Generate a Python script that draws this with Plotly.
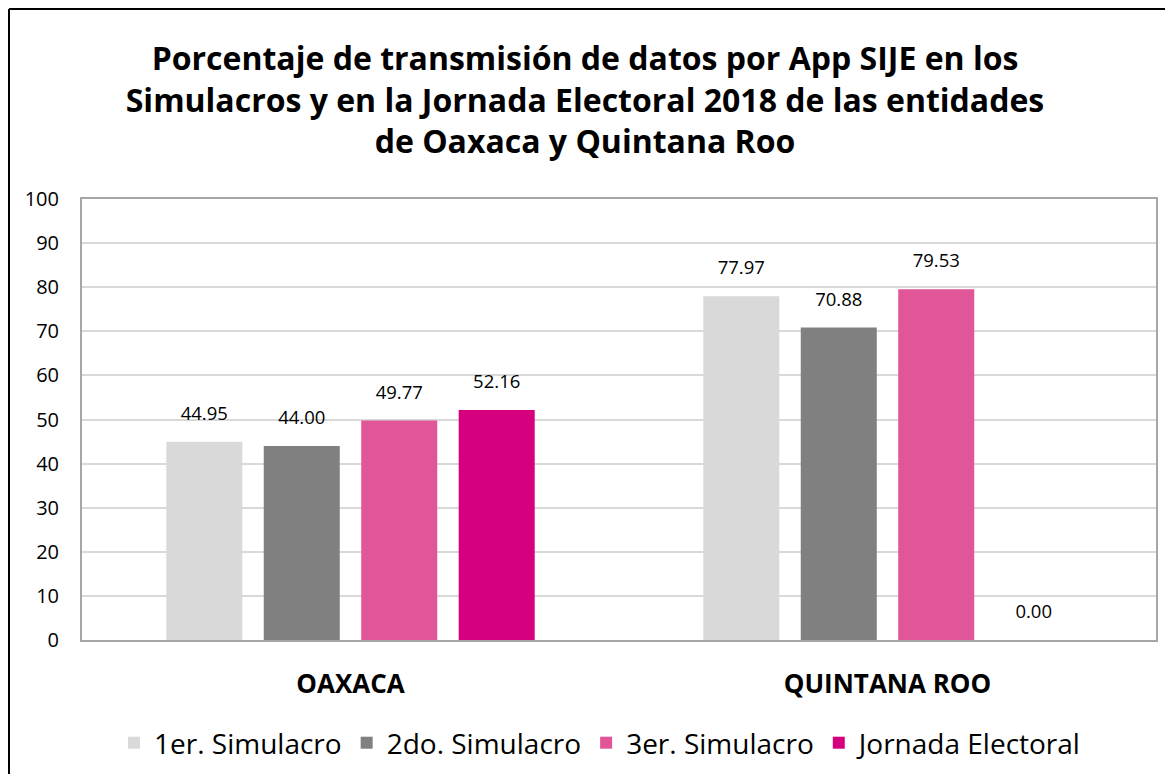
import plotly.graph_objects as go

# ================= DATA =================
CATEGORIES = ["OAXACA", "QUINTANA ROO"]
SERIES = ["1er. Simulacro", "2do. Simulacro", "3er. Simulacro", "Jornada Electoral"]
VALUES_1ER = [44.95, 77.97]
VALUES_2DO = [44.00, 70.88]
VALUES_3ER = [49.77, 79.53]
VALUES_JORNADA = [52.16, 0.00]
COLORS = ["#d9d9d9", "#808080", "#e05699", "#d6007e"]
TITLE = ("Porcentaje de transmisión de datos por App SIJE en los<br>"
         "Simulacros y en la Jornada Electoral 2018 de las entidades<br>"
         "de Oaxaca y Quintana Roo")
# ========================================

FONT = "Open Sans"
PAGE_PAD = 8  # body margin of the html page
W, H = 1173 - PAGE_PAD, 782 - 2 * PAGE_PAD  # fit the window without scrollbars
PLOT_W, PLOT_H = 1074, 441

fig = go.Figure()
all_vals = [VALUES_1ER, VALUES_2DO, VALUES_3ER, VALUES_JORNADA]
for i, (name, vals, color) in enumerate(zip(SERIES, all_vals, COLORS)):
    fig.add_trace(go.Bar(
        x=CATEGORIES,
        y=vals,
        name=name,
        offsetgroup=str(i),
        alignmentgroup="g",
        marker=dict(color=color, line=dict(width=0)),
        hoverinfo="skip",
    ))
    # value labels, lifted above the bar by an invisible marker
    fig.add_trace(go.Scatter(
        x=CATEGORIES,
        y=vals,
        mode="markers+text",
        offsetgroup=str(i),
        alignmentgroup="g",
        marker=dict(size=26, opacity=0),
        text=[f"{v:.2f}" for v in vals],
        textposition="top center",
        textfont=dict(size=18.5, color="#000000", family=FONT),
        cliponaxis=False,
        showlegend=False,
        hoverinfo="skip",
    ))

# outer chart border: only the left and top edges show in the original
bx0 = -(82 - PAGE_PAD - 1) / PLOT_W
bx1 = (1300 - 82) / PLOT_W
by0 = -(900 - 640) / PLOT_H
by1 = 1 + (199 - PAGE_PAD - 1) / PLOT_H
border = dict(color="#000000", width=2)

fig.update_layout(
    width=W,
    height=H,
    barmode="group",
    bargap=0.274,
    bargroupgap=0.22,
    scattermode="group",
    scattergap=0.274,
    paper_bgcolor="white",
    plot_bgcolor="white",
    margin=dict(l=82 - PAGE_PAD, r=W + PAGE_PAD - 1156,
                t=199 - PAGE_PAD, b=H + PAGE_PAD - 640),
    font=dict(family=FONT, color="#000000"),
    title=dict(
        text=TITLE,
        x=(585 - PAGE_PAD) / W, xref="container", xanchor="center",
        y=1 - (70 - PAGE_PAD) / H, yref="container", yanchor="middle",
        font=dict(size=32, family=FONT, color="#000000", weight="bold"),
    ),
    xaxis=dict(
        showline=True, mirror=True, linecolor="#a6a6a6", linewidth=2,
        ticks="", ticklabelstandoff=20,
        tickfont=dict(size=26, family=FONT, weight="bold"),
    ),
    yaxis=dict(
        range=[0, 100], dtick=10,
        showline=True, mirror=True, linecolor="#a6a6a6", linewidth=2,
        showgrid=True, gridcolor="#d9d9d9", gridwidth=2,
        zeroline=False, ticks="", ticklabelstandoff=17,
        tickfont=dict(size=20, family=FONT),
    ),
    legend=dict(
        orientation="h",
        xref="container", x=(601 - PAGE_PAD) / W, xanchor="center",
        yref="container", y=1 - (743 - PAGE_PAD) / H, yanchor="middle",
        font=dict(size=28, family=FONT),
        itemwidth=30,
        traceorder="normal",
    ),
    showlegend=True,
    shapes=[
        dict(type="line", xref="paper", yref="paper",
             x0=bx0, x1=bx0, y0=by0, y1=by1, line=border, layer="above"),
        dict(type="line", xref="paper", yref="paper",
             x0=bx0, x1=bx1, y0=by1, y1=by1, line=border, layer="above"),
    ],
)

fig.write_html("out.html")
